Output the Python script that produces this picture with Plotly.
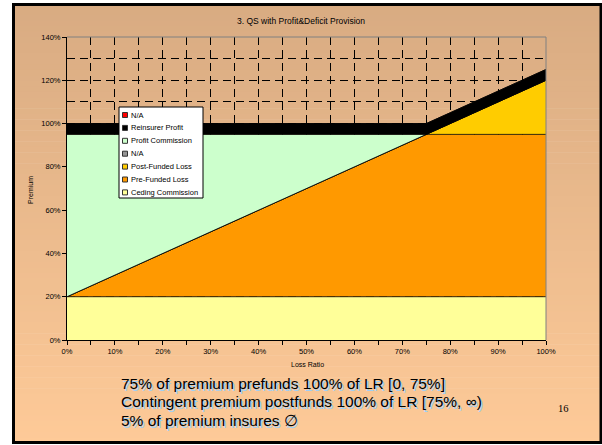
import plotly.graph_objects as go

# ---- data (percent of premium) ----
loss_ratio = [0, 5, 10, 15, 20, 25, 30, 35, 40, 45, 50, 55, 60, 65, 70, 75, 80, 85, 90, 95, 100]
ceding_commission = [20, 20, 20, 20, 20, 20, 20, 20, 20, 20, 20, 20, 20, 20, 20, 20, 20, 20, 20, 20, 20]
pre_funded_loss = [0, 5, 10, 15, 20, 25, 30, 35, 40, 45, 50, 55, 60, 65, 70, 75, 75, 75, 75, 75, 75]
post_funded_loss = [0, 0, 0, 0, 0, 0, 0, 0, 0, 0, 0, 0, 0, 0, 0, 0, 5, 10, 15, 20, 25]
na_grey = [0] * 21
profit_commission = [75, 70, 65, 60, 55, 50, 45, 40, 35, 30, 25, 20, 15, 10, 5, 0, 0, 0, 0, 0, 0]
reinsurer_profit = [5, 5, 5, 5, 5, 5, 5, 5, 5, 5, 5, 5, 5, 5, 5, 5, 5, 5, 5, 5, 5]
na_red = [0] * 21

# stacking order, bottom to top
series = [
    ("Ceding Commission", ceding_commission, "#FFFF99"),
    ("Pre-Funded Loss", pre_funded_loss, "#FF9900"),
    ("Post-Funded Loss", post_funded_loss, "#FFCC00"),
    ("N/A", na_grey, "#969696"),
    ("Profit Commission", profit_commission, "#CCFFCC"),
    ("Reinsurer Profit", reinsurer_profit, "#000000"),
    ("N/A", na_red, "#FF0000"),
]

x_ticks = [0, 10, 20, 30, 40, 50, 60, 70, 80, 90, 100]
y_ticks = [0, 20, 40, 60, 80, 100, 120, 140]

title_text = "3. QS with Profit&Deficit Provision"
x_title = "Loss Ratio"
y_title = "Premium"
notes = [
    "75% of premium prefunds 100% of LR [0, 75%]",
    "Contingent premium postfunds 100% of LR [75%, \u221e)",
    "5% of premium insures \u2205",
]
page_number = "16"

# ---- page geometry (pixels) ----
W, H = 602, 445
L, R, T, B = 67, 546, 37, 340
FONT = "Arial, 'Liberation Sans', sans-serif"


def px_x(p):
    return (p - L) / (R - L)


def px_y(p):
    return (B - p) / (B - T)


fig = go.Figure()

for name, vals, color in series:
    fig.add_trace(go.Scatter(
        x=loss_ratio, y=vals, name=name, stackgroup="one",
        mode="lines", line=dict(color="#000000", width=0.8),
        fillcolor=color, showlegend=False, hoverinfo="skip",
    ))

shapes = []

# slide background: vertical tan-to-peach gradient inside a black frame
top_rgb = (216, 171, 130)
bot_rgb = (254, 202, 152)
y0, y1 = 4, 443
n = 80
for i in range(n):
    a = y0 + (y1 - y0) * i / n
    b = y0 + (y1 - y0) * (i + 1) / n + 0.6
    t = (i + 0.5) / n
    c = tuple(round(top_rgb[k] + (bot_rgb[k] - top_rgb[k]) * t) for k in range(3))
    shapes.append(dict(type="rect", xref="paper", yref="paper", layer="below",
                       x0=px_x(13), x1=px_x(602), y0=px_y(a), y1=px_y(b),
                       line=dict(width=0), fillcolor="rgb(%d,%d,%d)" % c))
shapes.append(dict(type="rect", xref="paper", yref="paper", layer="above",
                   x0=px_x(13.5), x1=px_x(601), y0=px_y(4.5), y1=px_y(442.5),
                   line=dict(color="#000000", width=3), fillcolor="rgba(0,0,0,0)"))

# grey plot-area border on top and right
shapes.append(dict(type="line", xref="paper", yref="paper", layer="above",
                   x0=0, x1=1, y0=1, y1=1, line=dict(color="#808080", width=1)))
shapes.append(dict(type="line", xref="paper", yref="paper", layer="above",
                   x0=1, x1=1, y0=0, y1=1, line=dict(color="#808080", width=1)))

annotations = []

# legend box (top entry first)
legend_entries = list(reversed(series))
lx0, ly0, lx1, ly1 = 119, 107, 203, 198
shapes.append(dict(type="rect", xref="paper", yref="paper", layer="above",
                   x0=px_x(lx0), x1=px_x(lx1), y0=px_y(ly0), y1=px_y(ly1),
                   line=dict(color="#000000", width=1), fillcolor="#FFFFFF"))
for i, (name, _, color) in enumerate(legend_entries):
    cy = 115 + i * 12.9
    shapes.append(dict(type="rect", xref="paper", yref="paper", layer="above",
                       x0=px_x(122.5), x1=px_x(127.5), y0=px_y(cy - 2.5), y1=px_y(cy + 2.5),
                       line=dict(color="#333333", width=1), fillcolor=color))
    annotations.append(dict(text=name, xref="paper", yref="paper", showarrow=False,
                            x=px_x(129), y=px_y(cy), xanchor="left", yanchor="middle",
                            font=dict(family=FONT, size=7.5, color="#000000")))

# chart title and axis titles
annotations.append(dict(text=title_text, xref="paper", yref="paper", showarrow=False,
                        x=px_x(301), y=px_y(21), xanchor="center", yanchor="middle",
                        font=dict(family=FONT, size=8.5, color="#000000")))
annotations.append(dict(text=x_title, xref="paper", yref="paper", showarrow=False,
                        x=px_x(307), y=px_y(364), xanchor="center", yanchor="middle",
                        font=dict(family=FONT, size=7, color="#000000")))
annotations.append(dict(text=y_title, xref="paper", yref="paper", showarrow=False,
                        x=px_x(30), y=px_y(190), xanchor="center", yanchor="middle",
                        textangle=-90, font=dict(family=FONT, size=7, color="#000000")))

# notes below the chart
for i, line in enumerate(notes):
    annotations.append(dict(text=line, xref="paper", yref="paper", showarrow=False,
                            x=px_x(119), y=px_y(383 + i * 18.5), xanchor="left", yanchor="middle",
                            font=dict(family=FONT, size=15.5, color="#000000",
                                      shadow="1.5px 1.5px 0px #9fd0f5")))
annotations.append(dict(text=page_number, xref="paper", yref="paper", showarrow=False,
                        x=px_x(563), y=px_y(408), xanchor="center", yanchor="middle",
                        font=dict(family="'Liberation Serif', 'Times New Roman', serif",
                                  size=10.5, color="#000000")))

grid_common = dict(gridcolor="#000000", gridwidth=1, griddash="8px,5px")

fig.update_layout(
    width=W, height=H,
    margin=dict(l=L, r=W - R, t=T, b=H - B, pad=0),
    paper_bgcolor="#FFFFFF", plot_bgcolor="rgba(0,0,0,0)",
    showlegend=False,
    shapes=shapes, annotations=annotations,
    font=dict(family=FONT, size=7.5, color="#000000"),
    xaxis=dict(
        range=[0, 100], tickvals=x_ticks, ticktext=["%d%%" % v for v in x_ticks],
        showline=True, linecolor="#000000", linewidth=1,
        ticks="outside", ticklen=4, tickcolor="#000000",
        showgrid=True, **grid_common, zeroline=False,
        minor=dict(dtick=5, ticks="outside", ticklen=4, tickcolor="#000000",
                   showgrid=True, **grid_common),
        tickfont=dict(family=FONT, size=7.5, color="#000000"),
        fixedrange=True,
    ),
    yaxis=dict(
        range=[0, 140], tickvals=y_ticks, ticktext=["%d%%" % v for v in y_ticks],
        showline=True, linecolor="#000000", linewidth=1,
        ticks="outside", ticklen=4, tickcolor="#000000",
        showgrid=True, **grid_common, zeroline=False,
        minor=dict(dtick=10, ticks="", showgrid=True, **grid_common),
        tickfont=dict(family=FONT, size=7.5, color="#000000"),
        fixedrange=True,
    ),
)

fig.write_html("out.html")
